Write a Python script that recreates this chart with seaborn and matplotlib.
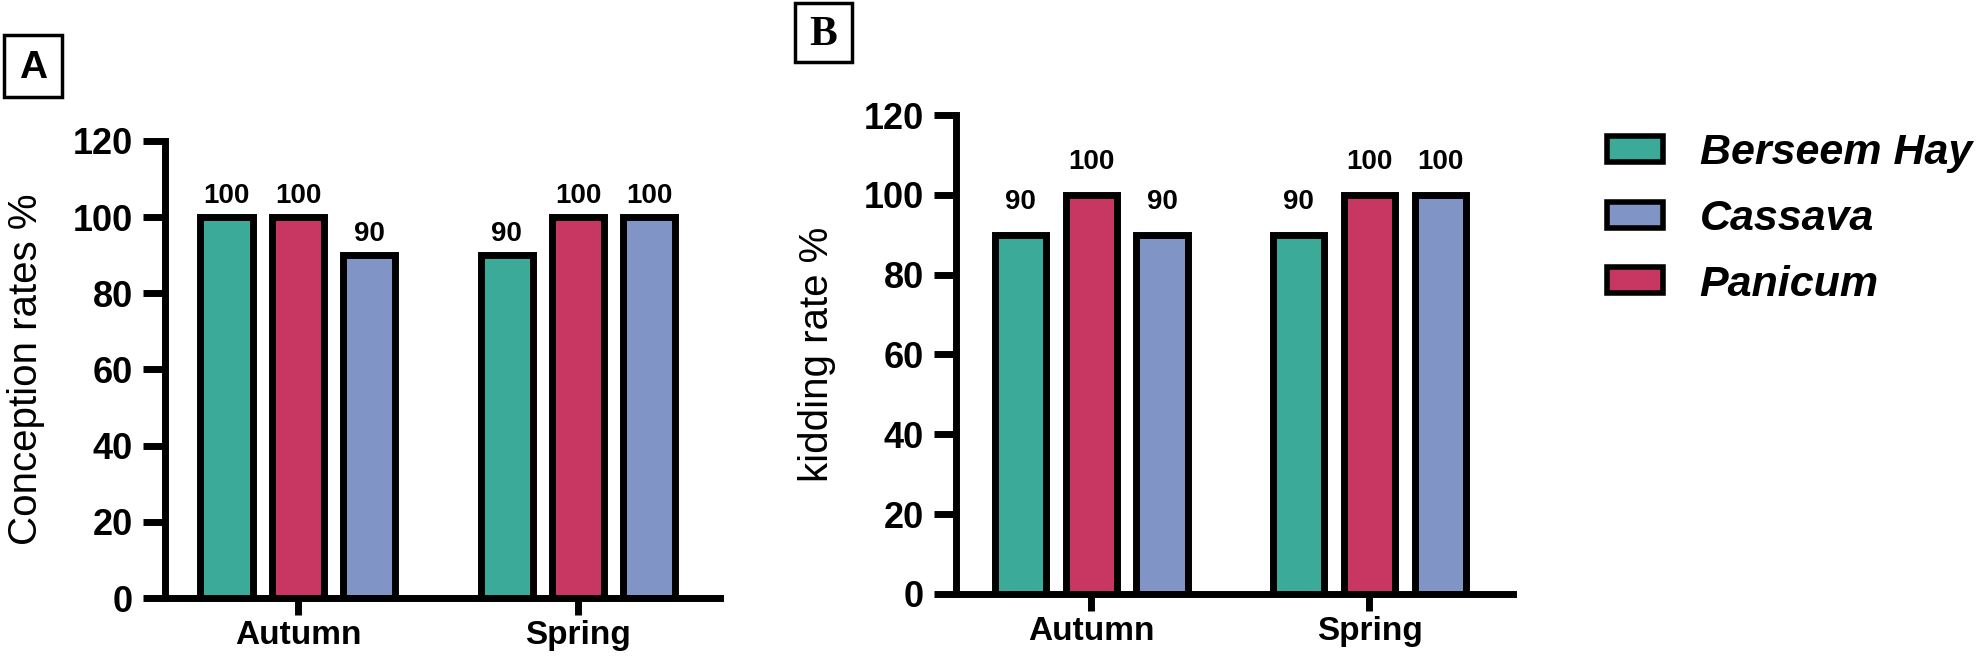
import pandas as pd
import matplotlib.pyplot as plt
import seaborn as sns
from matplotlib.patches import Patch, Rectangle

# data
seasons = ["Autumn", "Spring"]
diets = ["Berseem Hay", "Panicum", "Cassava"]          # bar order inside a group
legend_order = ["Berseem Hay", "Cassava", "Panicum"]   # order shown in legend
conception_berseem = [100, 90]
conception_panicum = [100, 100]
conception_cassava = [90, 100]
kidding_berseem = [90, 90]
kidding_panicum = [100, 100]
kidding_cassava = [90, 100]

colors = {"Berseem Hay": "#3BAA99", "Panicum": "#C83762", "Cassava": "#8094C6"}


def make_frame(berseem, panicum, cassava):
    rows = []
    for name, vals in zip(diets, [berseem, panicum, cassava]):
        for s, v in zip(seasons, vals):
            rows.append({"Season": s, "Diet": name, "Value": v})
    return pd.DataFrame(rows)


df_a = make_frame(conception_berseem, conception_panicum, conception_cassava)
df_b = make_frame(kidding_berseem, kidding_panicum, kidding_cassava)

sns.set_style("white")
plt.rcParams["font.family"] = ["Liberation Sans", "DejaVu Sans"]
plt.rcParams.update({"text.color": "black", "axes.labelcolor": "black",
                     "xtick.color": "black", "ytick.color": "black"})

fig = plt.figure(figsize=(19.85, 6.61), dpi=100)
ax_a = fig.add_axes([0.0831, 0.0953, 0.2796, 0.6914])
ax_b = fig.add_axes([0.4816, 0.1014, 0.2806, 0.7246])


def draw(ax, df, ylabel, xlim, pad):
    sns.barplot(data=df, x="Season", y="Value", hue="Diet", hue_order=diets,
                palette=colors, order=seasons, width=0.765, gap=0.27, saturation=1,
                edgecolor="black", linewidth=5, errorbar=None, legend=False, ax=ax)
    for c in ax.containers:
        ax.bar_label(c, padding=pad, fontsize=20, fontweight="bold")
    ax.set_ylim(0, 120)
    ax.set_yticks(range(0, 121, 20))
    ax.set_xlim(*xlim)
    ax.set_xlabel("")
    ax.set_ylabel(ylabel, fontsize=29, labelpad=20)
    sns.despine(ax=ax)
    for sp in ["left", "bottom"]:
        ax.spines[sp].set_linewidth(5)
        ax.spines[sp].set_color("black")
    ax.tick_params(axis="y", length=16, width=5, labelsize=26, pad=7, left=True)
    ax.tick_params(axis="x", length=12, width=5, labelsize=24, pad=4, bottom=True)
    for t in ax.get_xticklabels() + ax.get_yticklabels():
        t.set_fontweight("bold")


draw(ax_a, df_a, "Conception rates %", (-0.475, 1.507), 6)
draw(ax_b, df_b, "kidding rate %", (-0.487, 1.516), 14)

# panel letters
fig.patches.append(Rectangle((4 / 1985, 1 - 97 / 661), 58 / 1985, 62 / 661,
                             transform=fig.transFigure, fill=False, ec="black", lw=2.5))
fig.text(33 / 1985, 1 - 68 / 661, "A", fontsize=28, fontweight="bold",
         ha="center", va="center")
fig.patches.append(Rectangle((795 / 1985, 1 - 62 / 661), 57 / 1985, 59 / 661,
                             transform=fig.transFigure, fill=False, ec="black", lw=2.5))
fig.text(823 / 1985, 1 - 35 / 661, "B", fontsize=30, fontweight="bold",
         ha="center", va="center", family=["Liberation Serif", "DejaVu Serif"])

handles = [Patch(facecolor=colors[d], edgecolor="black", linewidth=4, label=d)
           for d in legend_order]
fig.legend(handles=handles, loc="upper left", bbox_to_anchor=(1607 / 1985, 1 - 133 / 661),
           frameon=False, borderpad=0, borderaxespad=0, handlelength=1.3,
           handleheight=0.55, handletextpad=0.85, labelspacing=0.6,
           prop={"size": 31, "style": "italic", "weight": "bold"})

fig.savefig("out.png", dpi=100)
